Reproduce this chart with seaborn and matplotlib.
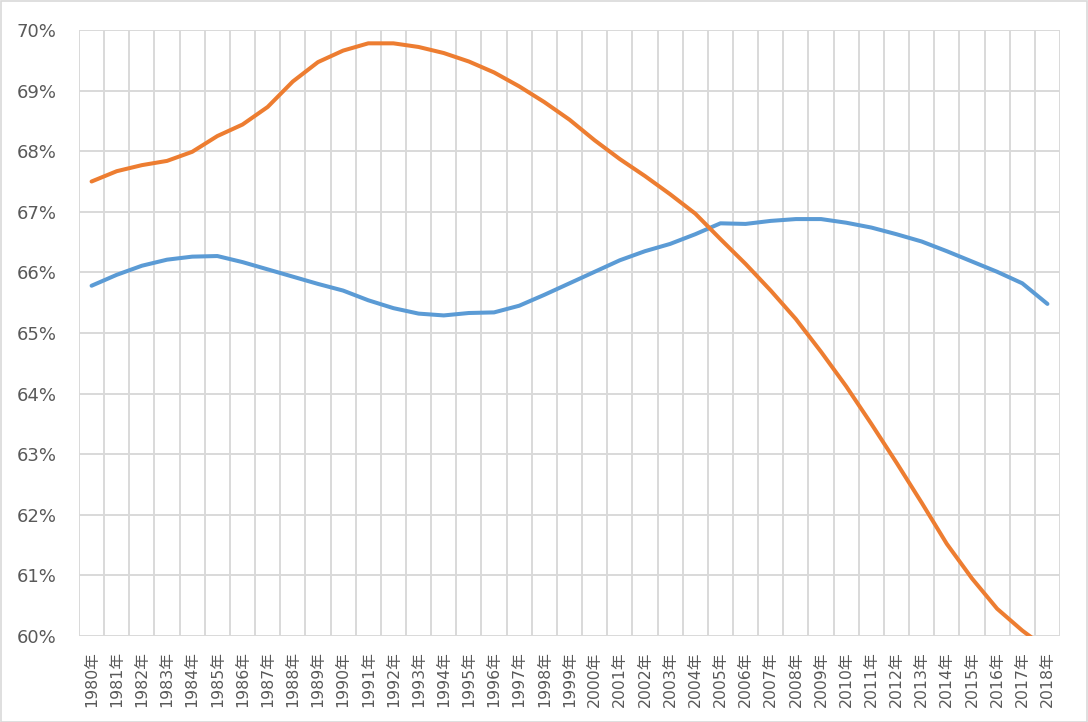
import matplotlib
matplotlib.use("Agg")
import matplotlib.pyplot as plt
import seaborn as sns
import numpy as np
import pandas as pd
from matplotlib.patches import Rectangle

years = [f"{y}年" for y in range(1980, 2019)]

orange_vals = [67.50, 67.67, 67.77, 67.84, 67.99, 68.25, 68.44, 68.73, 69.15, 69.47,
               69.66, 69.78, 69.78, 69.72, 69.62, 69.48, 69.30, 69.07, 68.81, 68.52,
               68.18, 67.87, 67.59, 67.29, 66.97, 66.55, 66.14, 65.70, 65.23, 64.69,
               64.12, 63.50, 62.86, 62.20, 61.52, 60.95, 60.45, 60.09, 59.78]

blue_vals = [65.78, 65.96, 66.11, 66.21, 66.26, 66.27, 66.17, 66.05, 65.93, 65.81,
             65.70, 65.54, 65.41, 65.32, 65.29, 65.33, 65.34, 65.45, 65.63, 65.82,
             66.01, 66.20, 66.35, 66.47, 66.63, 66.81, 66.80, 66.85, 66.88, 66.88,
             66.82, 66.74, 66.63, 66.51, 66.35, 66.18, 66.01, 65.82, 65.48]

y_ticks = [60, 61, 62, 63, 64, 65, 66, 67, 68, 69, 70]
y_tick_labels = [f"{v}%" for v in y_ticks]

sns.set_theme(style="white")
plt.rcParams['font.family'] = ['DejaVu Sans', 'Noto Sans CJK SC']

fig = plt.figure(figsize=(10.88, 7.22), dpi=100)
ax = fig.add_axes([79/1088, 1 - 636/722, (1060 - 79)/1088, (636 - 30)/722])

idx = np.arange(len(years))
df = pd.DataFrame({"idx": idx, "blue": blue_vals, "orange": orange_vals})

sns.lineplot(data=df, x="idx", y="blue", ax=ax, color="#5B9BD5", lw=2.9,
             solid_capstyle="round", solid_joinstyle="round", zorder=3)
sns.lineplot(data=df, x="idx", y="orange", ax=ax, color="#ED7D31", lw=2.9,
             solid_capstyle="round", solid_joinstyle="round", zorder=4)

ax.set_xlim(-0.5, len(years) - 0.5)
ax.set_ylim(60, 70)
ax.set_yticks(y_ticks)
ax.set_yticklabels(y_tick_labels)
ax.set_xticks(idx)
ax.set_xticklabels(years, rotation=90, family=['DejaVu Sans', 'Noto Sans CJK SC'])
ax.set_xticks(np.arange(-0.5, len(years), 1.0), minor=True)

ax.grid(False)
ax.grid(which="minor", axis="x", color="#D9D9D9", lw=1.4)
ax.grid(which="major", axis="y", color="#D9D9D9", lw=1.4)
ax.set_axisbelow(True)
for s in ax.spines.values():
    s.set_visible(False)

ax.tick_params(axis="y", which="both", length=0, pad=16, labelsize=13, labelcolor="#595959")
ax.tick_params(axis="x", which="both", length=0, pad=11, labelsize=11.3, labelcolor="#595959")
ax.set_xlabel("")
ax.set_ylabel("")

fig.patches.append(Rectangle((0.5/1088, 0.5/722), 1 - 1.5/1088, 1 - 1.5/722,
                             transform=fig.transFigure, fill=False,
                             edgecolor="#D9D9D9", lw=1.2))

fig.savefig("out.png", dpi=100)
